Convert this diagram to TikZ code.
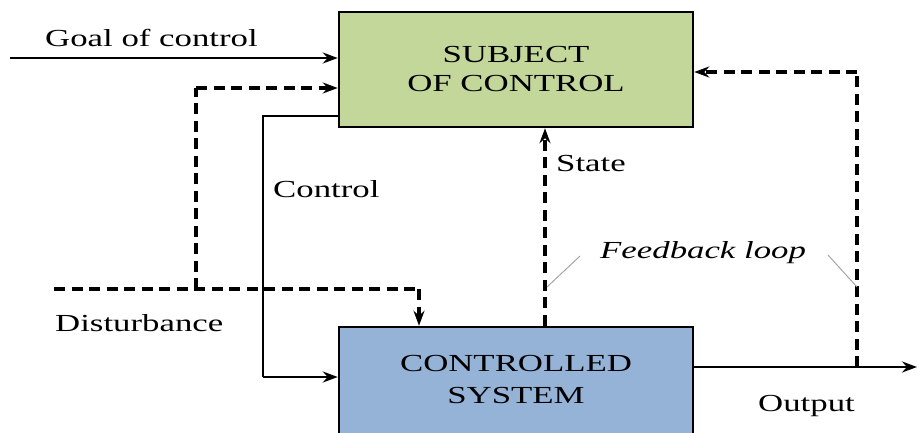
\documentclass[tikz,border=0pt]{standalone}
\usepackage{fontspec}
\usepackage{graphicx}
\setmainfont{Liberation Serif}
\usetikzlibrary{arrows.meta,calc}
\newcommand{\hsq}[1]{\scalebox{1.42}[1]{#1}}
\definecolor{boxgreen}{RGB}{196,215,155}
\definecolor{boxblue}{RGB}{149,179,215}
\tikzset{
  txt/.style={inner sep=0pt, font=\fontsize{24.5}{29}\selectfont},
  blk/.style={draw=black, line width=2.5pt, inner sep=0pt},
  solidln/.style={line width=2.5pt, -{Stealth[length=15pt,width=11pt,inset=5pt]}},
  solidnoarr/.style={line width=2.5pt},
  dashln/.style={line width=3.05pt, dash pattern=on 11pt off 6.5pt, -{Stealth[length=15pt,width=11pt,inset=5pt]}},
  dashnoarr/.style={line width=3.05pt, dash pattern=on 11pt off 6.5pt},
  leader/.style={draw=gray!70, line width=1pt}
}
\begin{document}
\begin{tikzpicture}[x=1pt,y=-1pt]
\clip (0,0) rectangle (917,432);
\fill[white] (0,0) rectangle (917,432);

% boxes
\node[blk, fill=boxgreen, minimum width=354pt, minimum height=115pt] (sc) at (516,69.5) {};
\node[blk, fill=boxblue, minimum width=354pt, minimum height=150pt] (cs) at (516,402) {};

% box texts
\node[txt, align=center] (sctext) at (516,69) {\hsq{SUBJECT}\\\hsq{OF CONTROL}};
\node[txt, align=center] (cstext) at (516,379) {\hsq{CONTROLLED}\\[3pt]\hsq{SYSTEM}};

% labels
\node[txt, anchor=base west] (goal) at (45,46) {\hsq{Goal of control}};
\node[txt, anchor=base west] (dist) at (55,331) {\hsq{Disturbance}};
\node[txt, anchor=base west] (ctrl) at (273,197) {\hsq{Control}};
\node[txt, anchor=base west] (state) at (556,171) {\hsq{State}};
\node[txt, anchor=base west] (outp) at (758,411) {\hsq{Output}};
\node[txt, anchor=base west] (fb) at (600,258) {\hsq{\itshape Feedback loop}};

% coordinates
\coordinate (gstart) at (10,58);
\coordinate (dstart) at (54,289);
\coordinate (dj) at (196,289);
\coordinate (d1) at (196,88);
\coordinate (d2) at (419,289);
\coordinate (c1) at (263,116);
\coordinate (c2) at (263,377);
\coordinate (sx) at (545,200);
\coordinate (oend) at (917,367);
\coordinate (f1) at (857,367);
\coordinate (f2) at (857,72);
\coordinate (l1a) at (580,256);
\coordinate (l1b) at (547,287);
\coordinate (l2a) at (828,255);
\coordinate (l2b) at (857,287);

% goal of control
\draw[solidln] (gstart) -- (gstart -| sc.west);
% disturbance branch to subject of control
\draw[dashnoarr] (dj) -- (d1);
\draw[dashln] (d1) -- (d1 -| sc.west);
% disturbance to controlled system
\draw[dashnoarr] (dstart) -- (d2);
\draw[dashln] (d2) -- (d2 |- cs.north);
% control
\draw[solidnoarr] (c1 -| sc.west) -- (c1) -- (c2);
\draw[solidln] (c2) -- (c2 -| cs.west);
% state
\draw[dashln] (sx |- cs.north) -- (sx |- sc.south);
% output
\draw[solidln] (oend -| cs.east) -- (oend);
% feedback
\draw[dashnoarr] (f1) -- (f2);
\draw[dashln] (f2) -- (f2 -| sc.east);
% leader lines
\draw[leader] (l1a) -- (l1b);
\draw[leader] (l2a) -- (l2b);
\end{tikzpicture}
\end{document}
